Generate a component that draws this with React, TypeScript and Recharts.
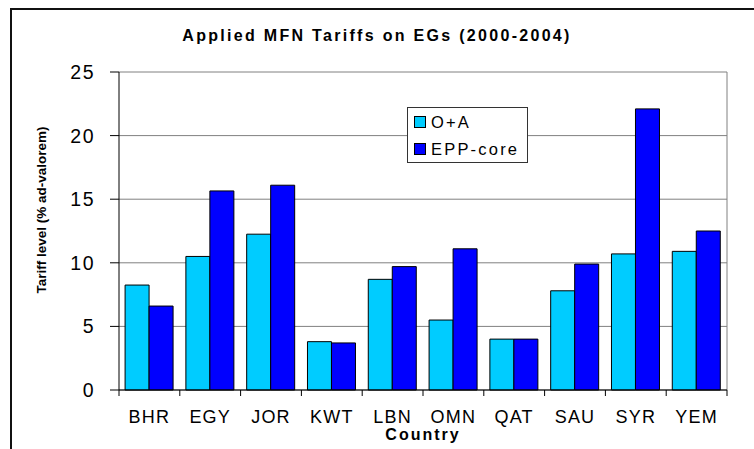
import { Bar, BarChart, CartesianGrid, Legend, XAxis, YAxis } from 'recharts'

const countries = ['BHR', 'EGY', 'JOR', 'KWT', 'LBN', 'OMN', 'QAT', 'SAU', 'SYR', 'YEM']
const oaValues = [8.25, 10.5, 12.25, 3.8, 8.7, 5.5, 4.0, 7.8, 10.7, 10.9]
const eppValues = [6.6, 15.65, 16.1, 3.7, 9.7, 11.1, 4.0, 9.9, 22.1, 12.5]
const seriesOrder = ['oa', 'epp']
const yTicks = [0, 5, 10, 15, 20, 25]

const data = countries.map((name, i) => ({ name, oa: oaValues[i], epp: eppValues[i] }))

const font = '"Liberation Sans", Arial, Helvetica, sans-serif'

function CountryTick(props: any) {
  const { x, y, payload, index, visibleTicksCount, width } = props
  const half = payload.offset || width / visibleTicksCount / 2
  const top = y - 6
  return (
    <g>
      <line x1={x - half} x2={x - half} y1={top} y2={top + 6} stroke="#000" />
      {index === visibleTicksCount - 1 && (
        <line x1={x + half} x2={x + half} y1={top} y2={top + 6} stroke="#000" />
      )}
      <text x={x} y={y + 27} textAnchor="middle" fill="#000" fontSize={18} letterSpacing={1.2} fontFamily={font}>
        {payload.value}
      </text>
    </g>
  )
}

function LegendBox(props: any) {
  const items = [...(props.payload || [])].sort(
    (a: any, b: any) => seriesOrder.indexOf(a.dataKey) - seriesOrder.indexOf(b.dataKey)
  )
  return (
    <div
      style={{
        width: 119,
        height: 54,
        border: '1px solid #333',
        background: '#fff',
        fontFamily: font,
        boxSizing: 'content-box',
      }}
    >
      {items.map((item: any, i: number) => (
        <div key={i} style={{ display: 'flex', alignItems: 'center', height: 27, paddingLeft: 6 }}>
          <span
            style={{
              display: 'inline-block',
              width: 10,
              height: 10,
              background: item.color,
              border: '1px solid #000',
              marginRight: 5,
            }}
          />
          <span style={{ fontSize: 16.5, letterSpacing: 2.2, color: '#000', lineHeight: '16px' }}>{item.value}</span>
        </div>
      ))}
    </div>
  )
}

export default function App() {
  return (
    <div
      style={{
        position: 'fixed',
        left: 0,
        top: 0,
        width: 754,
        height: 449,
        overflow: 'hidden',
        background: '#fff',
      }}
    >
      <div
        style={{
          position: 'absolute',
          left: 10,
          top: 8,
          width: 800,
          height: 500,
          border: '2px solid #111',
        }}
      />
      <div
        style={{
          position: 'absolute',
          left: 0,
          width: 754,
          top: 28,
          textAlign: 'center',
          fontFamily: font,
          fontWeight: 'bold',
          fontSize: 16,
          lineHeight: '16px',
          letterSpacing: 2.3,
          color: '#000',
        }}
      >
        Applied MFN Tariffs on EGs (2000-2004)
      </div>
      <div style={{ position: 'absolute', left: 0, top: 0 }}>
        <BarChart
          width={754}
          height={449}
          data={data}
          margin={{ top: 72, right: 27, bottom: 19, left: 69 }}
          barCategoryGap="10%"
          barGap={0}
        >
          <CartesianGrid
            stroke="#808080"
            strokeWidth={1}
            vertical={true}
            verticalCoordinatesGenerator={({ offset }: any) => [offset.left + offset.width]}
          />
          <XAxis
            dataKey="name"
            height={40}
            interval={0}
            axisLine={{ stroke: '#000' }}
            tickLine={false}
            tickSize={6}
            tickMargin={0}
            tick={<CountryTick />}
            label={({ viewBox }: any) => (
              <text
                x={viewBox.x + viewBox.width / 2}
                y={viewBox.y + 50}
                textAnchor="middle"
                fontFamily={font}
                fontWeight="bold"
                fontSize={16}
                letterSpacing={2}
                fill="#000"
              >
                Country
              </text>
            )}
          />
          <YAxis
            width={50}
            domain={[0, 25]}
            ticks={yTicks}
            interval={0}
            axisLine={{ stroke: '#000' }}
            tickLine={{ stroke: '#000' }}
            tickSize={9}
            tickMargin={15}
            tick={{ fill: '#000', fontSize: 19.5, fontFamily: font, letterSpacing: 1.5 }}
            label={({ viewBox }: any) => {
              const cx = viewBox.x - 28
              const cy = viewBox.y + viewBox.height / 2 - 21
              return (
                <text
                  x={cx}
                  y={cy}
                  transform={`rotate(-90, ${cx}, ${cy})`}
                  textAnchor="middle"
                  dominantBaseline="central"
                  fontFamily={font}
                  fontWeight="bold"
                  fontSize={13.5}
                  fill="#000"
                >
                  Tariff level (% ad-valorem)
                </text>
              )
            }}
          />
          <Legend
            layout="vertical"
            align="center"
            verticalAlign="middle"
            content={<LegendBox />}
            wrapperStyle={{ left: 407, top: 107, width: 121, height: 56 }}
          />
          <Bar dataKey="oa" name="O+A" fill="#00CCFF" stroke="#000" strokeWidth={1} isAnimationActive={false} />
          <Bar dataKey="epp" name="EPP-core" fill="#0000FF" stroke="#000" strokeWidth={1} isAnimationActive={false} />
        </BarChart>
      </div>
    </div>
  )
}
